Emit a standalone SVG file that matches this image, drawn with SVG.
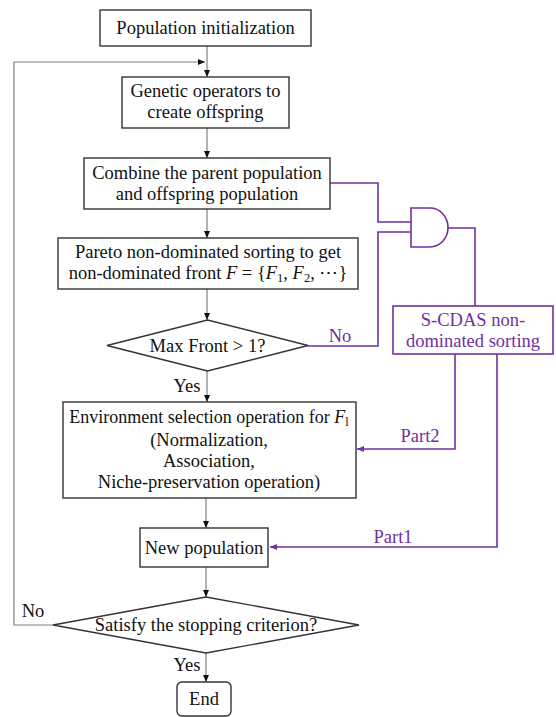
<svg xmlns="http://www.w3.org/2000/svg" width="556" height="717" viewBox="0 0 556 717" font-family="'Liberation Serif', Tinos, 'Times New Roman', 'DejaVu Serif', serif">
<defs>
<style>
text{font-family:'Liberation Serif',Tinos,'Times New Roman','DejaVu Serif',serif;font-size:18.5px;fill:#111;text-anchor:middle}
.box{fill:#fff;stroke:#333;stroke-width:1.4}
.pbox{fill:#fff;stroke:#7030A0;stroke-width:1.6}
.con{fill:none;stroke:#808080;stroke-width:1.2}
.pcon{fill:none;stroke:#7030A0;stroke-width:1.6}
.pt{fill:#7030A0}
.m{font-style:italic}
.sub{font-size:12.5px;font-style:normal}
</style>
<marker id="ah" markerWidth="8" markerHeight="8" refX="7" refY="4" orient="auto" markerUnits="userSpaceOnUse">
<path d="M0,1 L7,4 L0,7 Z" fill="#111"/>
</marker>
<marker id="ph" markerWidth="8" markerHeight="8" refX="7" refY="4" orient="auto" markerUnits="userSpaceOnUse">
<path d="M0,1 L7,4 L0,7 Z" fill="#7030A0"/>
</marker>
</defs>

<g id="connectors">
<line class="con" x1="207" y1="46" x2="207" y2="77" marker-end="url(#ah)"/>
<polyline class="con" points="53,625 14,625 14,62 205,62" marker-end="url(#ah)"/>
<line class="con" x1="207" y1="128" x2="207" y2="158" marker-end="url(#ah)"/>
<line class="con" x1="207" y1="209" x2="207" y2="238" marker-end="url(#ah)"/>
<line class="con" x1="207" y1="289" x2="207" y2="320" marker-end="url(#ah)"/>
<line class="con" x1="207" y1="371" x2="207" y2="402" marker-end="url(#ah)"/>
<line class="con" x1="206" y1="498" x2="206" y2="528" marker-end="url(#ah)"/>
<line class="con" x1="206" y1="567" x2="206" y2="597" marker-end="url(#ah)"/>
<line class="con" x1="206" y1="653" x2="206" y2="682" marker-end="url(#ah)"/>
<polyline class="pcon" points="330,183 378,183 378,222 411,222"/>
<polyline class="pcon" points="308,346 378,346 378,232 411,232"/>
<polyline class="pcon" points="448,228 475,228 475,306"/>
<polyline class="pcon" points="455,354 455,449 357,449" marker-end="url(#ph)"/>
<polyline class="pcon" points="497,354 497,547 270,547" marker-end="url(#ph)"/>
<text x="187" y="392">Yes</text>
<text x="187" y="671">Yes</text>
<text x="33" y="617">No</text>
<text class="pt" x="340" y="342">No</text>
<text class="pt" x="420" y="442">Part2</text>
<text class="pt" x="393" y="543">Part1</text>
</g>

<g id="n_init">
<rect class="box" x="100" y="10" width="211" height="36"/>
<text x="205.5" y="34">Population initialization</text>
</g>

<g id="n_genetic">
<rect class="box" x="122" y="77" width="167" height="51"/>
<text x="205.5" y="97">Genetic operators to</text>
<text x="205.5" y="118">create offspring</text>
</g>

<g id="n_combine">
<rect class="box" x="84" y="158" width="246" height="51"/>
<text x="207" y="179">Combine the parent population</text>
<text x="207" y="200">and offspring population</text>
</g>

<g id="n_pareto">
<rect class="box" x="58" y="238" width="300" height="51"/>
<text x="208" y="258">Pareto non-dominated sorting to get</text>
<text x="208" y="279">non-dominated front <tspan class="m">F</tspan> = {<tspan class="m">F</tspan><tspan class="sub" dy="3">1</tspan><tspan dy="-3">, </tspan><tspan class="m">F</tspan><tspan class="sub" dy="3">2</tspan><tspan dy="-3">, ⋯}</tspan></text>
</g>

<g id="n_maxfront">
<polygon class="box" points="107,345.5 207.5,320 308,345.5 207.5,371"/>
<text x="207.5" y="352">Max Front &gt; 1?</text>
</g>

<g id="n_env">
<rect class="box" x="63" y="402" width="293" height="96"/>
<text x="209" y="423" style="font-size:18px">Environment selection operation for <tspan class="m">F</tspan><tspan class="sub m" dy="3">l</tspan></text>
<text x="209" y="446">(Normalization,</text>
<text x="209" y="467">Association,</text>
<text x="209" y="488">Niche-preservation operation)</text>
</g>

<g id="n_newpop">
<rect class="box" x="140" y="528" width="128" height="39"/>
<text x="204" y="554">New population</text>
</g>

<g id="n_stop">
<polygon class="box" points="53,625 206,597 359,625 206,653"/>
<text x="206" y="631">Satisfy the stopping criterion?</text>
</g>

<g id="n_end">
<rect class="box" x="177" y="682" width="54" height="34" rx="5"/>
<text x="204" y="705">End</text>
</g>

<g id="n_and">
<path class="pbox" d="M411,208 L430,208 A18,19.5 0 0 1 430,247 L411,247 Z"/>
</g>

<g id="n_scdas">
<rect class="pbox" x="393" y="306" width="160" height="48"/>
<text class="pt" x="473" y="326">S-CDAS non-</text>
<text class="pt" x="473" y="347">dominated sorting</text>
</g>
</svg>
